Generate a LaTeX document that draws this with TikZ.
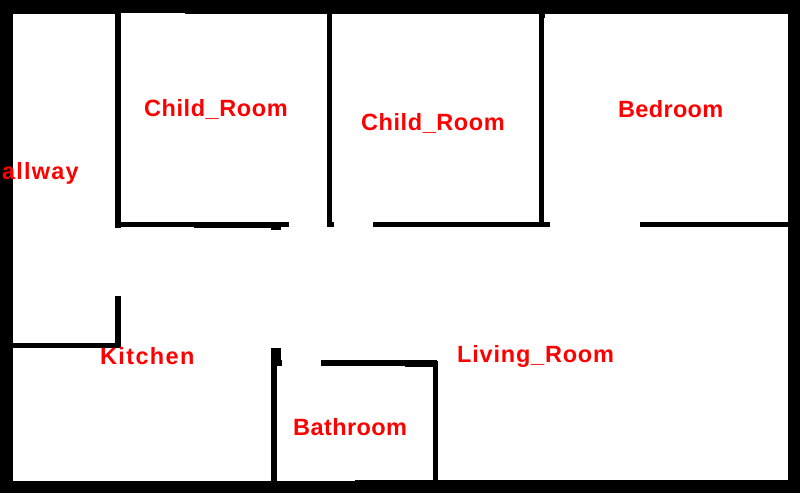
\documentclass[tikz,border=0pt]{standalone}
\usepackage{fontspec}
\setmainfont{Liberation Sans}
\tikzset{
  wallfill/.style={fill=black,draw=none},
  roomlabel/.style={text=red,font=\fontsize{23.5}{24}\selectfont\bfseries,inner sep=0pt,anchor=base west}
}
\newcommand{\wallrect}[4]{\fill[wallfill] (#1,#2) rectangle (#3,#4);}
\newcommand{\spaced}[2]{\addfontfeature{LetterSpace=#1}#2}
\begin{document}
\begin{tikzpicture}[x=1pt,y=-1pt]
\useasboundingbox (0,0) rectangle (800,493);
\fill[black] (0,0) rectangle (800,493);
\fill[white] (13,14) rectangle (788,481);
% top wall notch
\fill[white] (121,13) rectangle (185,14);
% bottom wall thickening
\wallrect{355}{480}{788}{481}
% left upper partition
\wallrect{115}{14}{121}{228}
\wallrect{121}{222}{289}{227}
\wallrect{194}{227}{281}{228}
\wallrect{271}{228}{281}{230}
% child rooms partition
\wallrect{327}{14}{332}{222}
\wallrect{327}{222}{334}{227}
\wallrect{373}{222}{550}{227}
% bedroom
\wallrect{539}{14}{544}{222}
\wallrect{539}{14}{545}{18}
\wallrect{640}{222}{788}{227}
% kitchen
\wallrect{115}{296}{121}{348}
\wallrect{13}{343}{121}{348}
% bathroom
\wallrect{271}{348}{281}{360}
\wallrect{271}{360}{282}{366}
\wallrect{271}{366}{277}{481}
\wallrect{321}{360}{437}{366}
\wallrect{405}{366}{437}{367}
\wallrect{433}{361}{438}{481}
% labels
\node[roomlabel] (child1) at (144,116) {\spaced{2.4}{Child\_Room}};
\node[roomlabel] (child2) at (361,130) {\spaced{2.4}{Child\_Room}};
\node[roomlabel] (bedroom) at (618,117) {\spaced{1.4}{Bedroom}};
\node[roomlabel] (hallway) at (2,179) {\spaced{5}{allway}};
\node[roomlabel] (kitchen) at (100,364) {\spaced{5.7}{Kitchen}};
\node[roomlabel] (living) at (457,362) {\spaced{3.4}{Living\_Room}};
\node[roomlabel] (bathroom) at (293,435) {\spaced{1.8}{Bathroom}};
\end{tikzpicture}
\end{document}
